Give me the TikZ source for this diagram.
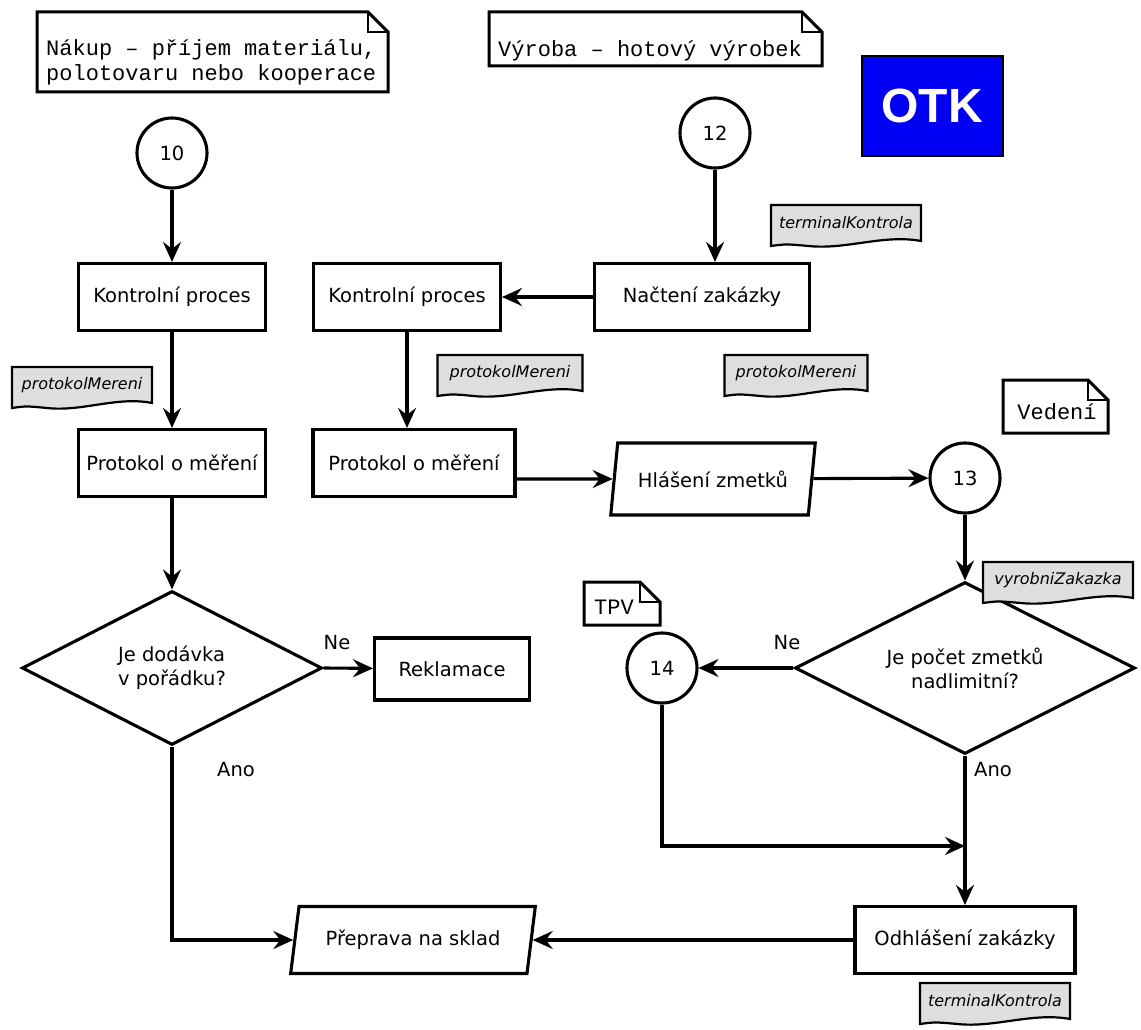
\documentclass[tikz,border=0pt]{standalone}
\usepackage{fontspec}
\setmainfont{DejaVu Sans}
\newfontfamily\monof{Liberation Mono}
\newfontfamily\arialf{Liberation Sans}
\usetikzlibrary{shapes.geometric,arrows.meta,calc}
\definecolor{tagfill}{RGB}{222,222,222}
\definecolor{otkblue}{RGB}{0,0,245}
\tikzset{
  every node/.style={inner sep=0pt},
  lw/.style={line width=3.1pt},
  mainfont/.style={font=\fontsize{19.5}{24}\selectfont},
  procbox/.style={draw, lw, rectangle, minimum height=67pt, mainfont},
  para/.style={draw, lw, trapezium, trapezium left angle=72, trapezium right angle=108,
     trapezium stretches=true, minimum height=67pt, mainfont},
  decision/.style={draw, lw, diamond, aspect=2, align=center, mainfont},
  conn/.style={draw, lw, circle, minimum size=70pt, mainfont},
  lbl/.style={mainfont},
  tagtext/.style={font=\itshape\fontsize{16}{18}\selectfont},
  tagline/.style={draw, line width=2.2pt, fill=tagfill},
  notetext/.style={font=\monof\fontsize{22}{25}\selectfont, align=left},
  noteline/.style={draw, line width=3pt, fill=white, line join=miter},
  foldline/.style={draw, line width=1.3pt},
  arr/.style={lw, -{Stealth[length=20pt,width=18pt,inset=7pt]}}
}
\newcommand{\doctag}[5]{%
  \draw[tagline] ({#2-#4/2},{#3-21}) -- ({#2+#4/2},{#3-21}) -- ({#2+#4/2},{#3+15})
    .. controls ({#2+#4/4},{#3+8}) and ({#2},{#3+24}) .. ({#2-#4/4},{#3+20})
    .. controls ({#2-#4*0.4},{#3+18}) .. ({#2-#4/2},{#3+20}) -- cycle;
  \node[tagtext] (#1) at (#2,{#3-3}) {#5};
}
\newcommand{\notebox}[4]{% x0 y0 x1 y1
  \draw[noteline] (#1,#2) -- ({#3-20},#2) -- (#3,{#2+20}) -- (#3,#4) -- (#1,#4) -- cycle;
  \draw[foldline] ({#3-20},#2) -- ({#3-20},{#2+20}) -- (#3,{#2+20});
}
\begin{document}
\begin{tikzpicture}[x=1pt,y=-1pt]
\useasboundingbox[fill=white] (0,0) rectangle (1141,1030);

% notes
\notebox{37}{12}{388}{92}
\node[notetext, anchor=west] (noteNakup) at (46,62) {Nákup – příjem materiálu,\\polotovaru nebo kooperace};
\notebox{489}{12}{822}{66}
\node[notetext, anchor=west] (noteVyroba) at (498,51) {Výroba – hotový výrobek};
\notebox{1003}{380}{1108}{433}
\node[notetext] (noteVedeni) at (1057,412) {Vedení};
\notebox{584}{582}{660}{625}
\node[notetext] (noteTPV) at (614,607) {TPV};

% OTK
\node[draw, line width=2pt, fill=otkblue, minimum width=141pt, minimum height=100pt,
      text=white, font=\arialf\bfseries\fontsize{48}{48}\selectfont] (otk) at (932,106) {OTK};

% left column
\node[conn] (c10) at (172,153) {10};
\node[procbox, minimum width=187pt] (ka) at (172,297) {Kontrolní proces};
\node[procbox, minimum width=187pt] (pa) at (172,463) {Protokol o měření};
\node[decision, minimum width=300pt, minimum height=154pt, align=left] (d1) at (172,668) {Je dodávka\\v pořádku?};
\node[procbox, minimum width=155pt, minimum height=62pt] (rek) at (452,669) {Reklamace};
\node[para, minimum width=245pt] (pre) at (413,940) {Přeprava na sklad};

% middle column
\node[conn] (c12) at (715,133) {12};
\node[procbox, minimum width=215pt] (nz) at (702,297) {Načtení zakázky};
\node[procbox, minimum width=187pt] (kb) at (407,297) {Kontrolní proces};
\node[procbox, minimum width=202pt] (pb) at (414,463) {Protokol o měření};
\node[para, minimum width=205pt, minimum height=72pt] (hz) at (713,479) {Hlášení zmetků};

% right column
\node[conn] (c13) at (965,478) {13};
\node[decision, minimum width=340pt, minimum height=172pt] (d2) at (965,668) {Je počet zmetků\\nadlimitní?};
\node[conn] (c14) at (662,668) {14};
\node[procbox, minimum width=220pt] (od) at (965,940) {Odhlášení zakázky};
\coordinate (join) at (965,846);

% tags
\doctag{tagTerm}{846}{226}{150}{terminalKontrola}
\doctag{tagPA}{82}{388}{140}{protokolMereni}
\doctag{tagPB}{510}{376}{145}{protokolMereni}
\doctag{tagPC}{796}{376}{143}{protokolMereni}
\doctag{tagVZ}{1058}{583}{150}{vyrobniZakazka}
\doctag{tagTerm2}{995}{1004}{150}{terminalKontrola}

% labels
\node[lbl] (ne1) at (337,643) {Ne};
\node[lbl] (ano1) at (236,770) {Ano};
\node[lbl] (ne2) at (787,643) {Ne};
\node[lbl] (ano2) at (993,770) {Ano};

% connectors
\draw[arr] (c10) -- (ka);
\draw[arr] (ka) -- (pa);
\draw[arr] (pa) -- (d1);
\draw[arr] (d1.east) -- (rek);
\draw[arr] (d1.south) |- (pre);
\draw[arr] (od) -- (pre);
\draw[arr] (c12) -- (c12 |- nz.north);
\draw[arr] (nz) -- (kb);
\draw[arr] (kb) -- (kb |- pb.north);
\draw[arr] (pb.east |- hz) -- (hz);
\draw[arr] (hz) -- (c13);
\draw[arr] (c13) -- (d2);
\draw[arr] (d2.west) -- (c14);
\draw[arr] (c14) |- (join);
\draw[arr] (d2.south) -- (od);
\end{tikzpicture}
\end{document}
